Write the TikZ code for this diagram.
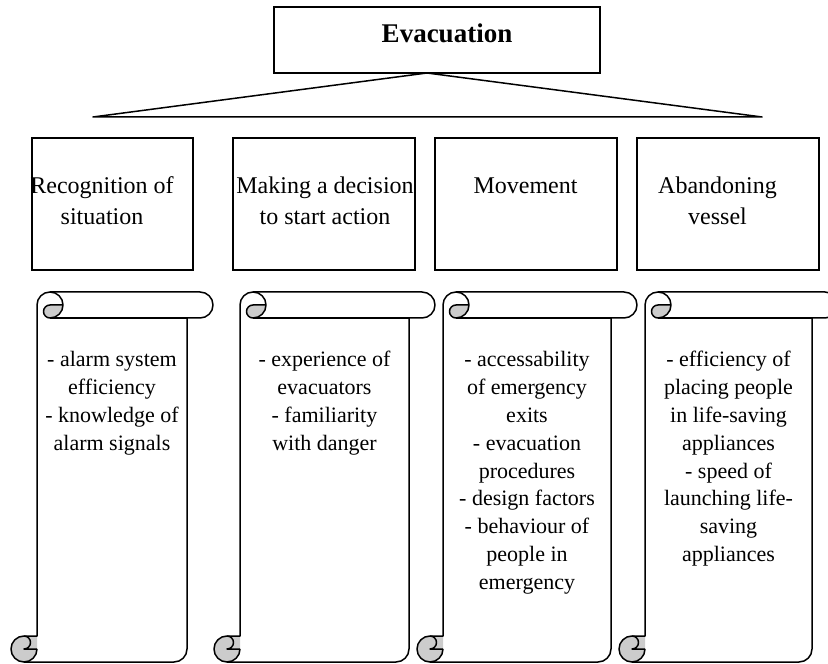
\documentclass[tikz,border=0pt]{standalone}
\usepackage{fontspec}
\setmainfont{Liberation Serif}

% scroll with top roll and bottom curl: #1 left edge, #2 width
\newcommand{\scrollpaper}[2]{%
  \begin{scope}[shift={(#1,0)}]
    \fill[white] (26,27) -- (26,358) arc[start angle=180, end angle=90, radius=13]
      -- ({#2-13},371) arc[start angle=90, end angle=-90, radius=13]
      -- ({#2-26},345) -- ({#2-26},14) arc[start angle=0, end angle=-90, radius=13]
      -- (13,1) arc[start angle=-90, end angle=-270, radius=13] -- cycle;
    \fill[curl] (52,358) arc[start angle=0, end angle=-90, radius=13]
      arc[start angle=-90, end angle=-270, radius=6.5] -- cycle;
    \fill[curl] (13,1) arc[start angle=-90, end angle=-270, radius=13]
      -- (26,27) -- (26,14) arc[start angle=0, end angle=-90, radius=13] -- cycle;
    \draw[edge] (26,27) -- (26,358) arc[start angle=180, end angle=90, radius=13]
      -- ({#2-13},371) arc[start angle=90, end angle=-90, radius=13]
      -- ({#2-26},345) -- ({#2-26},14) arc[start angle=0, end angle=-90, radius=13]
      -- (13,1) arc[start angle=-90, end angle=-270, radius=13] -- cycle;
    \draw[edge] (39,371) arc[start angle=90, end angle=-90, radius=13]
      arc[start angle=-90, end angle=-270, radius=6.5] -- (52,358);
    \draw[edge] ({#2-26},345) -- (39,345);
    \draw[edge] (13,27) arc[start angle=90, end angle=-90, radius=6.5] -- (26,14);
    \draw[edge] (13,1) arc[start angle=-90, end angle=0, radius=13];
  \end{scope}}

\begin{document}
\begin{tikzpicture}[
  x=0.5pt, y=0.5pt,
  box/.style={rectangle, draw, line width=0.75pt, inner sep=0pt, minimum height=66pt},
  edge/.style={line width=0.75pt, line join=round},
  curl/.style={fill=black!20},
  head/.style={anchor=base, inner sep=0pt, font=\fontsize{13.5}{16}\selectfont\bfseries},
  stage/.style={align=center, anchor=base, inner sep=0pt, font=\fontsize{12}{15.5}\selectfont},
  factor/.style={align=center, anchor=base, inner sep=0pt, font=\fontsize{11}{13.9}\selectfont},
]
  \useasboundingbox (0,0) rectangle (828,663);
  \clip (0,0) rectangle (828,663);

  % Top box and fan
  \node[box, minimum width=163pt, minimum height=33pt] (evac) at (437,623) {};
  \node[head] (evactext) at (447,620) {Evacuation};
  \coordinate (apex) at (427,590);
  \coordinate (fanl) at (93,546);
  \coordinate (fanr) at (762,546);
  \draw[edge] (apex) -- (fanl) -- (fanr) -- cycle;

  % Stage boxes (text anchored at last baseline)
  \node[box, minimum width=80.5pt] (recog) at (112.5,459) {};
  \node[box, minimum width=91pt] (decide) at (324,459) {};
  \node[box, minimum width=91pt] (move) at (526,459) {};
  \node[box, minimum width=91pt] (abandon) at (728,459) {};
  \node[stage] (recogtext) at (102,438) {Recognition of\\situation};
  \node[stage] (decidetext) at (325,438) {Making a decision\\to start action};
  \node[stage] (movetext) at (525.5,469) {Movement};
  \node[stage] (abandontext) at (717.5,438) {Abandoning\\vessel};

  % Scrolls with factors
  \scrollpaper{11}{202}
  \scrollpaper{214}{221}
  \scrollpaper{417}{220}
  \scrollpaper{619}{219}
  \node[factor] (recogf) at (112,212.6) {- alarm system\\efficiency\\- knowledge of\\alarm signals};
  \node[factor] (decidef) at (324.5,212.6) {- experience of\\evacuators\\- familiarity\\with danger};
  \node[factor] (movef) at (527,73.6) {- accessability\\of emergency\\exits\\- evacuation\\procedures\\- design factors\\- behaviour of\\people in\\emergency};
  \node[factor] (abandonf) at (728.5,101.4) {- efficiency of\\placing people\\in life-saving\\appliances\\- speed of\\launching life-\\saving\\appliances};
\end{tikzpicture}
\end{document}
